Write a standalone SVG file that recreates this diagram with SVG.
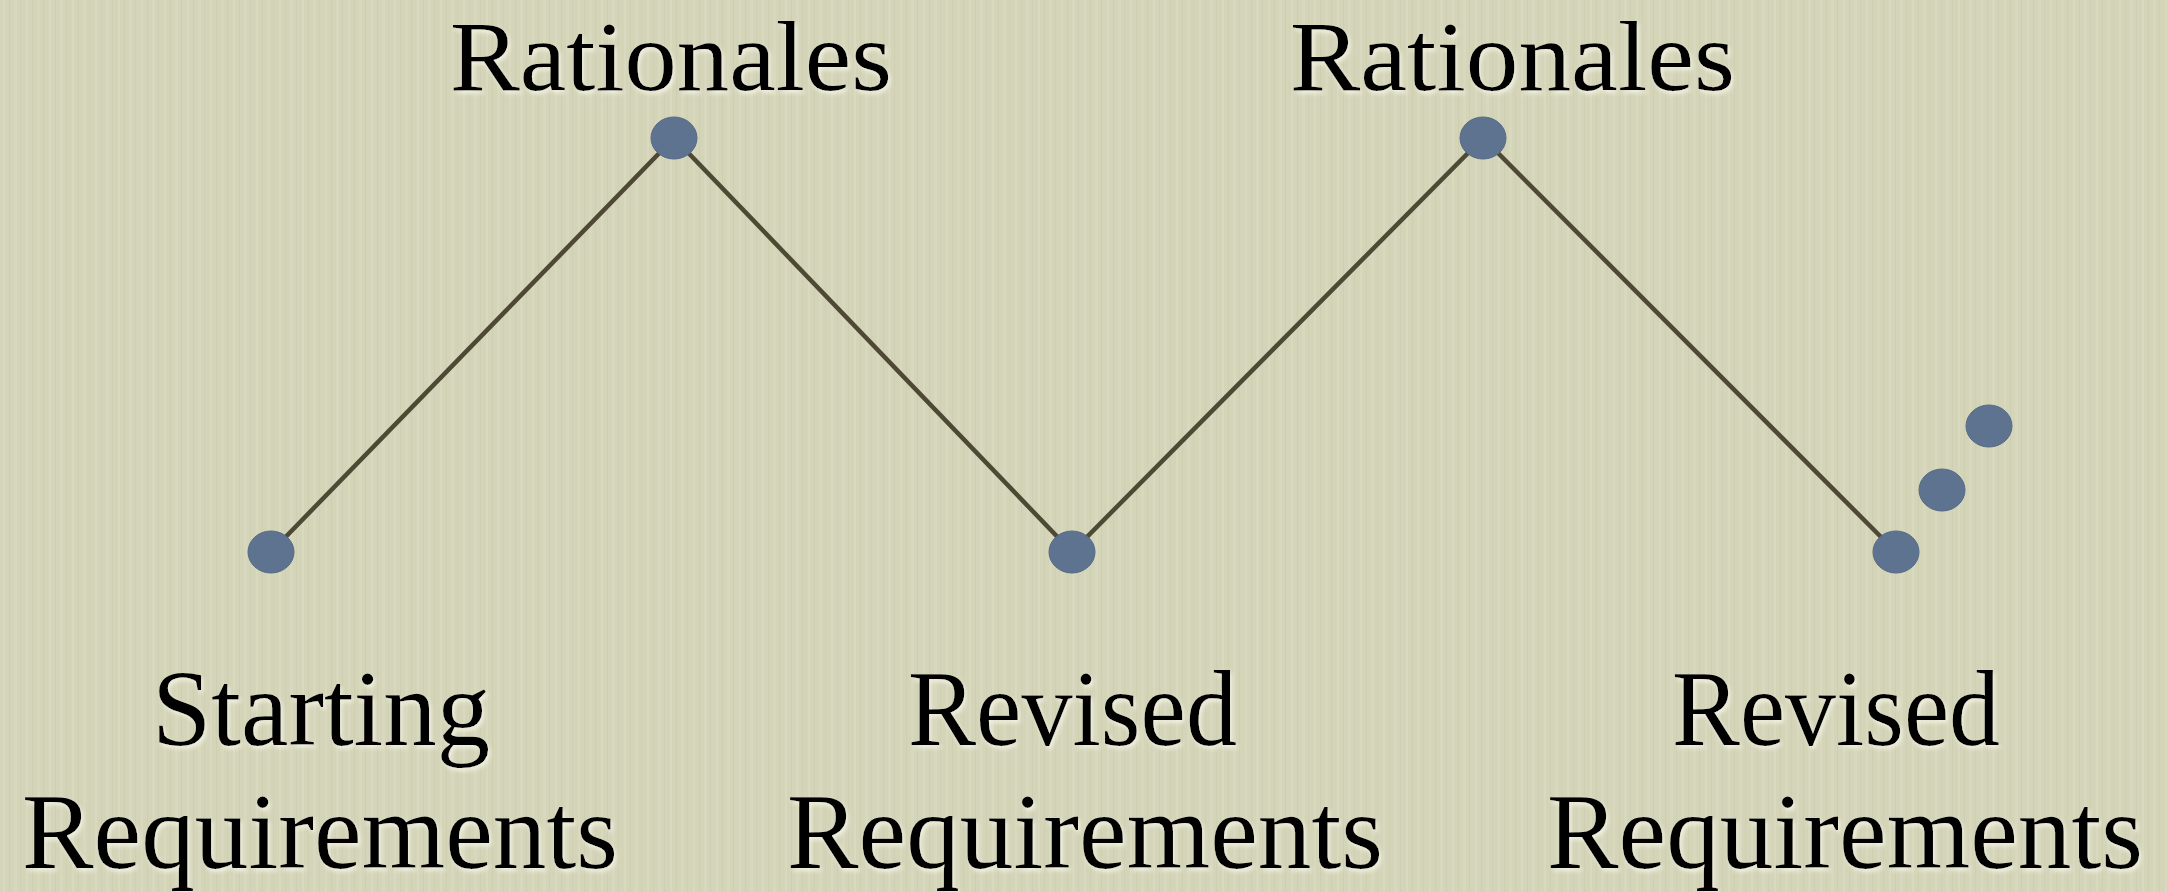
<svg xmlns="http://www.w3.org/2000/svg" width="2168" height="892" viewBox="0 0 2168 892">
  <defs>
    <pattern id="tex" width="23" height="892" patternUnits="userSpaceOnUse">
      <rect width="23" height="892" fill="#d4d4b9"/>
      <rect x="3" width="2" height="892" fill="#dcdcc4" opacity="0.7"/>
      <rect x="9" width="1" height="892" fill="#c9c9ac" opacity="0.6"/>
      <rect x="14" width="3" height="892" fill="#dadac1" opacity="0.6"/>
      <rect x="20" width="1" height="892" fill="#cacaae" opacity="0.5"/>
    </pattern>
    <filter id="glow" x="-5%" y="-20%" width="110%" height="140%">
      <feDropShadow dx="2" dy="3" stdDeviation="2" flood-color="#f4f4e6" flood-opacity="0.9"/>
    </filter>
  </defs>
  <style>
    .lbl { font-family: "Liberation Serif", "Times New Roman", serif; font-size: 108px; fill: #000; filter: url(#glow); }
    .top { font-size: 100px; }
    .node { fill: #5e7390; stroke: #566a86; stroke-width: 1; }
    .edge { fill: none; stroke: #4d4934; stroke-width: 4.5; stroke-linejoin: miter; }
  </style>
  <rect width="2168" height="892" fill="url(#tex)"/>

  <g id="connectors">
    <polyline class="edge" points="271,552 674,138 1072,552 1483,138 1896,552"/>
  </g>

  <g id="node-start">
    <ellipse class="node" cx="271" cy="552" rx="23" ry="21"/>
    <text class="lbl" x="152" y="745" textLength="338" lengthAdjust="spacingAndGlyphs">Starting</text>
    <text class="lbl" x="22" y="868" textLength="596" lengthAdjust="spacingAndGlyphs">Requirements</text>
  </g>

  <g id="node-rationales-1">
    <ellipse class="node" cx="674" cy="138" rx="23" ry="21"/>
    <text class="lbl top" x="450" y="90" textLength="442" lengthAdjust="spacingAndGlyphs">Rationales</text>
  </g>

  <g id="node-revised-1">
    <ellipse class="node" cx="1072" cy="552" rx="23" ry="21"/>
    <text class="lbl" x="908" y="745" textLength="329" lengthAdjust="spacingAndGlyphs">Revised</text>
    <text class="lbl" x="787" y="868" textLength="596" lengthAdjust="spacingAndGlyphs">Requirements</text>
  </g>

  <g id="node-rationales-2">
    <ellipse class="node" cx="1483" cy="138" rx="23" ry="21"/>
    <text class="lbl top" x="1290" y="90" textLength="445" lengthAdjust="spacingAndGlyphs">Rationales</text>
  </g>

  <g id="node-revised-2">
    <ellipse class="node" cx="1896" cy="552" rx="23" ry="21"/>
    <text class="lbl" x="1672" y="745" textLength="328" lengthAdjust="spacingAndGlyphs">Revised</text>
    <text class="lbl" x="1547" y="868" textLength="596" lengthAdjust="spacingAndGlyphs">Requirements</text>
  </g>

  <g id="node-ellipsis">
    <ellipse class="node" cx="1942" cy="490" rx="23" ry="21"/>
    <ellipse class="node" cx="1989" cy="426" rx="23" ry="21"/>
  </g>
</svg>
